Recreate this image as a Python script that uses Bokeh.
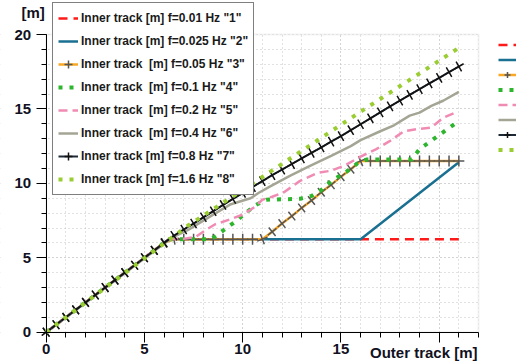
import numpy as np
from bokeh.plotting import figure
from bokeh.models import (Range1d, SingleIntervalTicker, Legend, LegendItem, Label,
                          ColumnDataSource, BoxAnnotation)
from bokeh.embed import file_html
from bokeh.resources import INLINE

# ---------------- data ----------------
labels = [
    'Inner track [m] f=0.01 Hz "1"',
    'Inner track [m] f=0.025 Hz "2"',
    'Inner track  [m] f=0.05 Hz "3"',
    'Inner track  [m] f=0.1 Hz "4"',
    'Inner track  [m] f=0.2 Hz "5"',
    'Inner track  [m] f=0.4 Hz "6"',
    'Inner track [m] f=0.8 Hz "7"',
    'Inner track [m] f=1.6 Hz "8"',
]

x1 = [0.0, 6.25, 21.0]
y1 = [0.0, 6.25, 6.25]

x2 = [0.0, 6.25, 16.0, 21.0]
y2 = [0.0, 6.25, 6.25, 11.42]

# common grid for the marker series
outer = [0.0, 0.5, 1.0, 1.5, 2.0, 2.5, 3.0, 3.5, 4.0, 4.5, 5.0, 5.5, 6.0, 6.5,
         7.0, 7.5, 8.0, 8.5, 9.0, 9.5, 10.0, 10.5, 11.0, 11.5, 12.0, 12.5, 13.0,
         13.5, 14.0, 14.5, 15.0, 15.5, 16.0, 16.5, 17.0, 17.5, 18.0, 18.5, 19.0,
         19.5, 20.0, 20.5, 21.0]
y3 = [0.0, 0.5, 1.0, 1.5, 2.0, 2.5, 3.0, 3.5, 4.0, 4.5, 5.0, 5.5, 6.0, 6.25,
      6.25, 6.25, 6.25, 6.25, 6.25, 6.25, 6.25, 6.25, 6.25, 6.75, 7.3, 7.8, 8.35,
      8.85, 9.4, 9.9, 10.45, 10.95, 11.5, 11.5, 11.5, 11.5, 11.5, 11.5, 11.5,
      11.5, 11.5, 11.5, 11.5]

x4 = [0.0, 6.25, 8.4, 9.7, 10.6, 11.2, 12.9, 13.5, 14.0, 14.5, 15.3, 15.85,
      16.3, 18.6, 19.0, 19.9, 20.9]
y4 = [0.0, 6.25, 6.25, 7.5, 8.5, 8.9, 8.96, 9.15, 9.55, 10.15, 10.8, 11.35,
      11.6, 11.6, 12.3, 13.15, 14.1]

x5 = [0.0, 6.25, 7.0, 7.6, 8.1, 8.6, 9.4, 10.0, 10.6, 11.0, 11.5, 12.1, 12.9,
      13.8, 14.5, 15.2, 16.0, 16.8, 17.5, 18.2, 18.9, 19.6, 20.2, 20.9]
y5 = [0.0, 6.25, 6.27, 6.4, 6.85, 7.25, 7.6, 7.9, 8.4, 8.9, 9.1, 9.4, 10.15,
      10.7, 10.85, 11.2, 11.8, 12.3, 12.85, 13.5, 13.65, 13.75, 14.4, 14.8]

x6 = [0.0, 6.4, 7.2, 8.0, 8.5, 9.4, 10.4, 10.8, 11.4, 12.4, 13.4, 14.5, 15.5,
      16.0, 17.0, 17.7, 18.5, 19.0, 19.6, 20.2, 21.0]
y6 = [0.0, 6.35, 6.85, 7.5, 7.9, 8.6, 9.0, 9.35, 9.8, 10.5, 11.15, 11.85, 12.5,
      12.9, 13.5, 13.9, 14.55, 14.75, 15.2, 15.55, 16.15]

y7 = [0.0, 0.5, 1.0, 1.5, 2.0, 2.5, 3.0, 3.5, 4.0, 4.5, 5.0, 5.5, 6.0, 6.48,
      6.9, 7.3, 7.72, 8.13, 8.55, 8.95, 9.35, 9.75, 10.15, 10.55, 10.92, 11.3,
      11.68, 12.05, 12.42, 12.8, 13.17, 13.57, 13.97, 14.37, 14.77, 15.17,
      15.56, 15.95, 16.33, 16.71, 17.09, 17.47, 17.85]

x8 = [0.0, 7.2, 10.8, 16.1, 21.0]
y8 = [0.0, 7.15, 10.25, 14.9, 19.1]

x_min, x_max = 0, 22
y_min, y_max = 0, 20
tick_step = 5

# ---------------- layout (pixels) ----------------
W, H = 521, 364
PL, PR, PT, PB = 45.7, 478.0, 34.0, 331.7   # plot area edges on the canvas
kx = (PR - PL) / (x_max - x_min)
ky = (PB - PT) / (y_max - y_min)
xr = Range1d(x_min - PL / kx, x_max + (W - PR) / kx)
yr = Range1d(y_min - (H - PB) / ky, y_max + PT / ky)

p = figure(width=W, height=H, x_range=xr, y_range=yr,
           output_backend="svg", toolbar_location=None, min_border=0,
           background_fill_color="white", border_fill_color="white")
p.outline_line_color = None

p.xaxis.ticker = SingleIntervalTicker(interval=tick_step, num_minor_ticks=5)
p.yaxis.ticker = SingleIntervalTicker(interval=tick_step, num_minor_ticks=5)
p.xaxis.major_label_overrides = {20: ""}
p.xaxis.fixed_location = y_min
p.yaxis.fixed_location = x_min
p.xaxis.bounds = (x_min, x_max)
p.yaxis.bounds = (y_min, y_max)

for ax in (p.xaxis[0], p.yaxis[0]):
    ax.axis_line_color = "black"
    ax.major_tick_line_color = "black"
    ax.minor_tick_line_color = "black"
    ax.major_tick_in = 0
    ax.minor_tick_in = 0
    ax.major_tick_out = 10
    ax.minor_tick_out = 5
    ax.major_label_text_font = "Liberation Sans"
    ax.major_label_text_font_size = "15px"
    ax.major_label_text_font_style = "bold"
    ax.major_label_text_color = "#111122"
p.yaxis.major_label_standoff = 5
p.xaxis.major_label_standoff = 2

for g in (p.xgrid[0], p.ygrid[0]):
    g.grid_line_color = "#c4c4c4"
    g.grid_line_dash = "1 3"
    g.minor_grid_line_color = "#c4c4c4"
    g.minor_grid_line_dash = "1 3"

# white masks keep the grid inside the plot area, then a light frame
for kw in (dict(right=x_min), dict(left=x_max), dict(bottom=y_max), dict(top=y_min)):
    p.add_layout(BoxAnnotation(fill_color="white", fill_alpha=1, line_alpha=0,
                               level="underlay", **kw))
p.add_layout(BoxAnnotation(left=x_min, right=x_max, bottom=y_min, top=y_max,
                           fill_alpha=0, line_color="#d4d4d4", line_width=2,
                           level="underlay"))

# marker angles following the curve direction on screen
xo = np.array(outer)


def angles(yv):
    yv = np.array(yv)
    return np.arctan2(np.gradient(yv) * ky, np.gradient(xo) * kx)


src3 = ColumnDataSource(dict(x=outer, y=y3, a=angles(y3)))
src7 = ColumnDataSource(dict(x=outer, y=y7, a=angles(y7)))

r1 = p.line(x1, y1, line_color="#ff1a1a", line_width=2.5, line_dash="9 6")
r2 = p.line(x2, y2, line_color="#1a7090", line_width=2.5)
r3 = p.line("x", "y", source=src3, line_color="#f9a825", line_width=2.5)
r3m = p.scatter("x", "y", source=src3, marker="cross", size=11, angle="a",
                line_color="#555555", line_width=1.5)
r4 = p.line(x4, y4, line_color="#2db52d", line_width=4, line_dash="4 7")
r5 = p.line(x5, y5, line_color="#f08cb4", line_width=2.5, line_dash="9 5")
r6 = p.line(x6, y6, line_color="#a5a595", line_width=2.5)
r7 = p.line("x", "y", source=src7, line_color="#1e2a36", line_width=2)
r7m = p.scatter("x", "y", source=src7, marker="cross", size=11, angle="a",
                line_color="#111111", line_width=1.5)
r8 = p.line(x8, y8, line_color="#9acd32", line_width=4, line_dash="4 7")

groups = [[r1], [r2], [r3, r3m], [r4], [r5], [r6], [r7, r7m], [r8]]

# main legend: box from y=4 to ~195 (canvas), left at x=52
leg = Legend(items=[LegendItem(label=l, renderers=g) for l, g in zip(labels, groups)],
             location=(52, H - 195), orientation="vertical",
             label_text_font="Liberation Sans", label_text_font_size="12px",
             label_text_font_style="bold", label_text_color="#1a1a1a",
             glyph_width=20, glyph_height=20, label_height=20, label_standoff=3,
             spacing=3, padding=5, margin=0,
             border_line_color="black", border_line_width=1,
             background_fill_color="white", background_fill_alpha=1)
p.add_layout(leg)

# second legend at the right edge (its texts lie beyond the page edge)
leg2 = Legend(items=[LegendItem(label="", renderers=g) for g in groups],
              location=(498, H - 157), orientation="vertical",
              glyph_width=18, glyph_height=15, label_height=15, label_width=0,
              label_standoff=0, spacing=0, padding=0, margin=0,
              border_line_alpha=0, background_fill_alpha=0)
p.add_layout(leg2)

p.add_layout(Label(x=x_max, y=y_min, x_offset=-1, y_offset=-20, text="Outer track [m]",
                   text_align="right", text_baseline="middle",
                   text_font="Liberation Sans", text_font_size="15px",
                   text_font_style="bold", text_color="#111122"))
p.add_layout(Label(x=x_min, y=y_max, x_offset=-13, y_offset=22, text="[m]",
                   text_align="center", text_baseline="middle",
                   text_font="Liberation Sans", text_font_size="15px",
                   text_font_style="bold", text_color="#111122"))

open("out.html", "w").write(file_html(p, INLINE))
